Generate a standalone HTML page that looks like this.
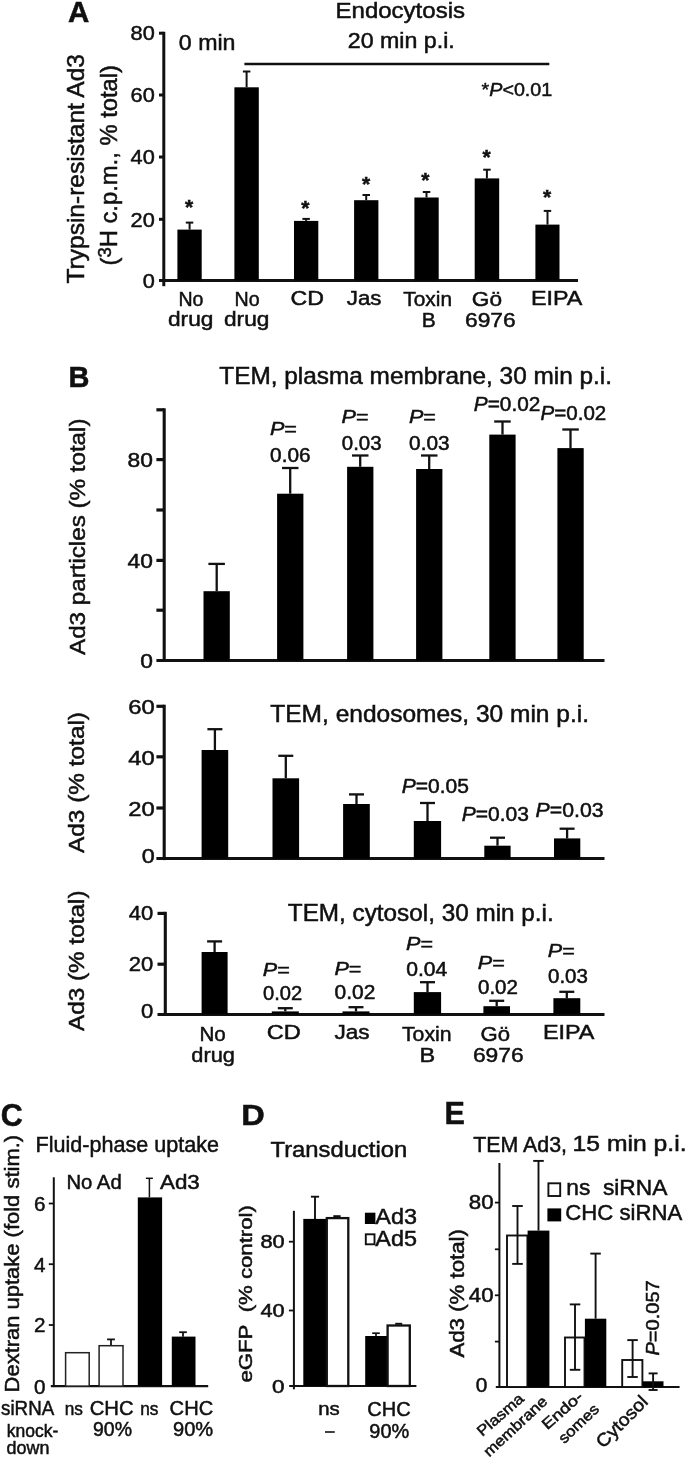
<!DOCTYPE html>
<html><head><meta charset="utf-8"><title>Figure</title>
<style>
html,body{margin:0;padding:0;background:#fff;}
body{width:685px;height:1460px;overflow:hidden;}
svg{display:block;filter:blur(0.7px);}
text{font-family:"Liberation Sans",sans-serif;fill:#101010;stroke:#101010;stroke-width:0.5px;}
</style></head><body>
<svg width="685" height="1460" viewBox="0 0 685 1460">
<rect x="0" y="0" width="685" height="1460" fill="#fff"/>
<text x="68.0" y="22.4" font-size="29.5" font-weight="bold">A</text>
<text x="335.5" y="18.2" font-size="22.36" textLength="129.5" lengthAdjust="spacingAndGlyphs">Endocytosis</text>
<text x="178.8" y="50.0" font-size="21.6" textLength="56.7" lengthAdjust="spacingAndGlyphs">0 min</text>
<text x="347.8" y="48.3" font-size="21.82" textLength="107.0" lengthAdjust="spacingAndGlyphs">20 min p.i.</text>
<line x1="244.4" y1="64.0" x2="549.3" y2="64.0" stroke="#111" stroke-width="2.3"/>
<text x="481.6" y="95.6" font-size="19.22" textLength="70.6" lengthAdjust="spacingAndGlyphs">*<tspan font-style="italic">P</tspan>&lt;0.01</text>
<line x1="163.8" y1="31.8" x2="163.8" y2="286.2" stroke="#111" stroke-width="3.0"/>
<line x1="159.0" y1="280.4" x2="578.0" y2="280.4" stroke="#111" stroke-width="3.0"/>
<line x1="159.0" y1="33.2" x2="163.8" y2="33.2" stroke="#111" stroke-width="3.0"/>
<line x1="159.0" y1="95.0" x2="163.8" y2="95.0" stroke="#111" stroke-width="3.0"/>
<line x1="159.0" y1="157.0" x2="163.8" y2="157.0" stroke="#111" stroke-width="3.0"/>
<line x1="159.0" y1="219.3" x2="163.8" y2="219.3" stroke="#111" stroke-width="3.0"/>
<text x="154.8" y="40.3" font-size="20.84" text-anchor="end" textLength="24.2" lengthAdjust="spacingAndGlyphs">80</text>
<text x="154.8" y="102.3" font-size="20.84" text-anchor="end" textLength="24.2" lengthAdjust="spacingAndGlyphs">60</text>
<text x="154.8" y="164.3" font-size="20.84" text-anchor="end" textLength="24.2" lengthAdjust="spacingAndGlyphs">40</text>
<text x="154.8" y="226.6" font-size="20.84" text-anchor="end" textLength="24.2" lengthAdjust="spacingAndGlyphs">20</text>
<text x="154.8" y="287.9" font-size="20.84" text-anchor="end" textLength="12.1" lengthAdjust="spacingAndGlyphs">0</text>
<rect x="177.4" y="229.6" width="24.3" height="50.8" fill="#000"/>
<line x1="189.6" y1="222.6" x2="189.6" y2="229.6" stroke="#111" stroke-width="2.0"/>
<line x1="185.8" y1="222.6" x2="193.3" y2="222.6" stroke="#111" stroke-width="2.0"/>
<rect x="234.4" y="87.3" width="24.4" height="193.1" fill="#000"/>
<line x1="246.6" y1="71.5" x2="246.6" y2="87.3" stroke="#111" stroke-width="2.0"/>
<line x1="242.9" y1="71.5" x2="250.4" y2="71.5" stroke="#111" stroke-width="2.0"/>
<rect x="294.0" y="220.9" width="24.3" height="59.5" fill="#000"/>
<line x1="306.1" y1="218.9" x2="306.1" y2="220.9" stroke="#111" stroke-width="2.0"/>
<line x1="302.4" y1="218.9" x2="309.9" y2="218.9" stroke="#111" stroke-width="2.0"/>
<rect x="354.1" y="200.2" width="24.3" height="80.2" fill="#000"/>
<line x1="366.2" y1="195.0" x2="366.2" y2="200.2" stroke="#111" stroke-width="2.0"/>
<line x1="362.5" y1="195.0" x2="370.0" y2="195.0" stroke="#111" stroke-width="2.0"/>
<rect x="414.4" y="197.5" width="24.3" height="82.9" fill="#000"/>
<line x1="426.5" y1="192.0" x2="426.5" y2="197.5" stroke="#111" stroke-width="2.0"/>
<line x1="422.8" y1="192.0" x2="430.3" y2="192.0" stroke="#111" stroke-width="2.0"/>
<rect x="474.7" y="178.4" width="24.5" height="102.0" fill="#000"/>
<line x1="486.9" y1="169.7" x2="486.9" y2="178.4" stroke="#111" stroke-width="2.0"/>
<line x1="483.2" y1="169.7" x2="490.7" y2="169.7" stroke="#111" stroke-width="2.0"/>
<rect x="535.4" y="224.6" width="24.1" height="55.8" fill="#000"/>
<line x1="547.5" y1="210.9" x2="547.5" y2="224.6" stroke="#111" stroke-width="2.0"/>
<line x1="543.7" y1="210.9" x2="551.2" y2="210.9" stroke="#111" stroke-width="2.0"/>
<text x="189.2" y="214.1" font-size="21" text-anchor="middle" font-weight="bold" stroke-width="0.55">*</text>
<text x="305.3" y="215.1" font-size="21" text-anchor="middle" font-weight="bold" stroke-width="0.55">*</text>
<text x="366.2" y="191.0" font-size="21" text-anchor="middle" font-weight="bold" stroke-width="0.55">*</text>
<text x="425.3" y="186.6" font-size="21" text-anchor="middle" font-weight="bold" stroke-width="0.55">*</text>
<text x="486.7" y="163.6" font-size="21" text-anchor="middle" font-weight="bold" stroke-width="0.55">*</text>
<text x="547.0" y="203.6" font-size="21" text-anchor="middle" font-weight="bold" stroke-width="0.55">*</text>
<text x="178.5" y="305.6" font-size="20.52" textLength="25.0" lengthAdjust="spacingAndGlyphs">No</text>
<text x="168.0" y="325.5" font-size="21.06" textLength="45.4" lengthAdjust="spacingAndGlyphs">drug</text>
<text x="234.5" y="305.6" font-size="20.52" textLength="25.1" lengthAdjust="spacingAndGlyphs">No</text>
<text x="224.0" y="325.5" font-size="21.06" textLength="45.4" lengthAdjust="spacingAndGlyphs">drug</text>
<text x="290.4" y="305.2" font-size="21.06" textLength="33.5" lengthAdjust="spacingAndGlyphs">CD</text>
<text x="346.8" y="305.2" font-size="21.06" textLength="34.7" lengthAdjust="spacingAndGlyphs">Jas</text>
<text x="403.3" y="305.6" font-size="20.52" textLength="48.7" lengthAdjust="spacingAndGlyphs">Toxin</text>
<text x="421.8" y="326.6" font-size="21.06" textLength="14.0" lengthAdjust="spacingAndGlyphs">B</text>
<text x="471.8" y="305.6" font-size="21.06" textLength="30.2" lengthAdjust="spacingAndGlyphs">Gö</text>
<text x="465.0" y="326.6" font-size="21.06" textLength="50.7" lengthAdjust="spacingAndGlyphs">6976</text>
<text x="531.0" y="305.2" font-size="21.06" textLength="51.4" lengthAdjust="spacingAndGlyphs">EIPA</text>
<text transform="translate(84.0,283.5) rotate(-90)" font-size="23.76" textLength="229.5" lengthAdjust="spacingAndGlyphs">Trypsin-resistant Ad3</text>
<text transform="translate(117.2,265.5) rotate(-90)" font-size="23.22" textLength="200.5" lengthAdjust="spacingAndGlyphs">(<tspan font-size="18" dy="-6">3</tspan><tspan dy="6">H c.p.m., % total)</tspan></text>
<text x="68.6" y="387.2" font-size="29" font-weight="bold">B</text>
<text x="219.3" y="383.9" font-size="23.22" textLength="392.7" lengthAdjust="spacingAndGlyphs">TEM, plasma membrane, 30 min p.i.</text>
<line x1="164.2" y1="408.3" x2="164.2" y2="661.9" stroke="#111" stroke-width="3.1"/>
<line x1="156.4" y1="660.4" x2="604.5" y2="660.4" stroke="#111" stroke-width="3.0"/>
<line x1="156.4" y1="409.8" x2="164.2" y2="409.8" stroke="#111" stroke-width="3.2"/>
<line x1="156.4" y1="459.6" x2="164.2" y2="459.6" stroke="#111" stroke-width="3.2"/>
<line x1="156.4" y1="510.0" x2="164.2" y2="510.0" stroke="#111" stroke-width="3.2"/>
<line x1="156.4" y1="560.4" x2="164.2" y2="560.4" stroke="#111" stroke-width="3.2"/>
<line x1="156.4" y1="610.2" x2="164.2" y2="610.2" stroke="#111" stroke-width="3.2"/>
<text x="153.0" y="466.9" font-size="20.84" text-anchor="end" textLength="25.4" lengthAdjust="spacingAndGlyphs">80</text>
<text x="153.0" y="568.1" font-size="20.84" text-anchor="end" textLength="25.4" lengthAdjust="spacingAndGlyphs">40</text>
<text x="153.0" y="668.1" font-size="20.84" text-anchor="end" textLength="12.7" lengthAdjust="spacingAndGlyphs">0</text>
<rect x="203.5" y="591.2" width="26.3" height="69.2" fill="#000"/>
<line x1="216.7" y1="563.9" x2="216.7" y2="591.2" stroke="#111" stroke-width="2.3"/>
<line x1="208.4" y1="563.9" x2="224.9" y2="563.9" stroke="#111" stroke-width="2.3"/>
<rect x="277.1" y="493.7" width="26.3" height="166.7" fill="#000"/>
<line x1="290.2" y1="468.0" x2="290.2" y2="493.7" stroke="#111" stroke-width="2.3"/>
<line x1="282.0" y1="468.0" x2="298.5" y2="468.0" stroke="#111" stroke-width="2.3"/>
<rect x="347.1" y="466.8" width="26.3" height="193.6" fill="#000"/>
<line x1="360.2" y1="455.5" x2="360.2" y2="466.8" stroke="#111" stroke-width="2.3"/>
<line x1="352.0" y1="455.5" x2="368.5" y2="455.5" stroke="#111" stroke-width="2.3"/>
<rect x="416.1" y="469.0" width="26.3" height="191.4" fill="#000"/>
<line x1="429.2" y1="455.5" x2="429.2" y2="469.0" stroke="#111" stroke-width="2.3"/>
<line x1="421.0" y1="455.5" x2="437.5" y2="455.5" stroke="#111" stroke-width="2.3"/>
<rect x="489.3" y="434.6" width="26.3" height="225.8" fill="#000"/>
<line x1="502.5" y1="421.5" x2="502.5" y2="434.6" stroke="#111" stroke-width="2.3"/>
<line x1="494.2" y1="421.5" x2="510.7" y2="421.5" stroke="#111" stroke-width="2.3"/>
<rect x="557.4" y="448.1" width="26.3" height="212.3" fill="#000"/>
<line x1="570.5" y1="429.5" x2="570.5" y2="448.1" stroke="#111" stroke-width="2.3"/>
<line x1="562.3" y1="429.5" x2="578.8" y2="429.5" stroke="#111" stroke-width="2.3"/>
<text x="269.9" y="435.3" font-size="18.58" textLength="27.0" lengthAdjust="spacingAndGlyphs"><tspan font-style="italic">P</tspan>=</text>
<text x="270.1" y="461.9" font-size="19.33" textLength="40.5" lengthAdjust="spacingAndGlyphs">0.06</text>
<text x="341.6" y="423.4" font-size="18.58" textLength="27.0" lengthAdjust="spacingAndGlyphs"><tspan font-style="italic">P</tspan>=</text>
<text x="341.8" y="449.7" font-size="19.33" textLength="39.8" lengthAdjust="spacingAndGlyphs">0.03</text>
<text x="408.9" y="423.4" font-size="18.58" textLength="27.0" lengthAdjust="spacingAndGlyphs"><tspan font-style="italic">P</tspan>=</text>
<text x="409.1" y="449.7" font-size="19.33" textLength="40.5" lengthAdjust="spacingAndGlyphs">0.03</text>
<text x="473.8" y="411.2" font-size="19.44" textLength="66.5" lengthAdjust="spacingAndGlyphs"><tspan font-style="italic">P</tspan>=0.02</text>
<text x="540.6" y="420.2" font-size="19.44" textLength="65.7" lengthAdjust="spacingAndGlyphs"><tspan font-style="italic">P</tspan>=0.02</text>
<text transform="translate(84.5,655.0) rotate(-90)" font-size="22.68" textLength="236.5" lengthAdjust="spacingAndGlyphs">Ad3 particles (% total)</text>
<text x="270.3" y="721.5" font-size="23.22" textLength="318.7" lengthAdjust="spacingAndGlyphs">TEM, endosomes, 30 min p.i.</text>
<line x1="164.2" y1="704.7" x2="164.2" y2="860.1" stroke="#111" stroke-width="3.1"/>
<line x1="156.4" y1="858.6" x2="604.5" y2="858.6" stroke="#111" stroke-width="3.0"/>
<line x1="156.4" y1="706.3" x2="164.2" y2="706.3" stroke="#111" stroke-width="3.2"/>
<line x1="156.4" y1="756.8" x2="164.2" y2="756.8" stroke="#111" stroke-width="3.2"/>
<line x1="156.4" y1="808.0" x2="164.2" y2="808.0" stroke="#111" stroke-width="3.2"/>
<text x="154.8" y="713.7" font-size="20.84" text-anchor="end" textLength="26.5" lengthAdjust="spacingAndGlyphs">60</text>
<text x="154.8" y="765.1" font-size="20.84" text-anchor="end" textLength="26.5" lengthAdjust="spacingAndGlyphs">40</text>
<text x="154.8" y="815.8" font-size="20.84" text-anchor="end" textLength="26.5" lengthAdjust="spacingAndGlyphs">20</text>
<text x="154.8" y="862.6" font-size="20.84" text-anchor="end" textLength="13.0" lengthAdjust="spacingAndGlyphs">0</text>
<rect x="201.6" y="750.0" width="26.6" height="108.6" fill="#000"/>
<line x1="214.9" y1="729.2" x2="214.9" y2="750.0" stroke="#111" stroke-width="2.3"/>
<line x1="207.4" y1="729.2" x2="222.4" y2="729.2" stroke="#111" stroke-width="2.3"/>
<rect x="272.5" y="778.3" width="26.6" height="80.3" fill="#000"/>
<line x1="285.8" y1="755.8" x2="285.8" y2="778.3" stroke="#111" stroke-width="2.3"/>
<line x1="278.3" y1="755.8" x2="293.3" y2="755.8" stroke="#111" stroke-width="2.3"/>
<rect x="343.1" y="804.0" width="26.7" height="54.6" fill="#000"/>
<line x1="356.5" y1="794.4" x2="356.5" y2="804.0" stroke="#111" stroke-width="2.3"/>
<line x1="349.0" y1="794.4" x2="364.0" y2="794.4" stroke="#111" stroke-width="2.3"/>
<rect x="413.8" y="821.0" width="27.3" height="37.6" fill="#000"/>
<line x1="427.5" y1="803.0" x2="427.5" y2="821.0" stroke="#111" stroke-width="2.3"/>
<line x1="420.0" y1="803.0" x2="435.0" y2="803.0" stroke="#111" stroke-width="2.3"/>
<rect x="484.3" y="845.7" width="26.3" height="12.9" fill="#000"/>
<line x1="497.5" y1="837.7" x2="497.5" y2="845.7" stroke="#111" stroke-width="2.3"/>
<line x1="490.0" y1="837.7" x2="505.0" y2="837.7" stroke="#111" stroke-width="2.3"/>
<rect x="554.0" y="838.4" width="26.3" height="20.2" fill="#000"/>
<line x1="567.1" y1="828.7" x2="567.1" y2="838.4" stroke="#111" stroke-width="2.3"/>
<line x1="559.6" y1="828.7" x2="574.6" y2="828.7" stroke="#111" stroke-width="2.3"/>
<text x="401.8" y="792.8" font-size="19.44" textLength="67.2" lengthAdjust="spacingAndGlyphs"><tspan font-style="italic">P</tspan>=0.05</text>
<text x="461.8" y="821.0" font-size="19.44" textLength="67.2" lengthAdjust="spacingAndGlyphs"><tspan font-style="italic">P</tspan>=0.03</text>
<text x="535.6" y="816.8" font-size="19.44" textLength="68.0" lengthAdjust="spacingAndGlyphs"><tspan font-style="italic">P</tspan>=0.03</text>
<text transform="translate(84.3,853.0) rotate(-90)" font-size="22.68" textLength="141.0" lengthAdjust="spacingAndGlyphs">Ad3 (% total)</text>
<text x="287.8" y="921.1" font-size="23.22" textLength="265.9" lengthAdjust="spacingAndGlyphs">TEM, cytosol, 30 min p.i.</text>
<line x1="165.3" y1="911.8" x2="165.3" y2="1015.9" stroke="#111" stroke-width="3.1"/>
<line x1="157.5" y1="1014.4" x2="604.5" y2="1014.4" stroke="#111" stroke-width="3.0"/>
<line x1="157.5" y1="913.4" x2="165.3" y2="913.4" stroke="#111" stroke-width="3.2"/>
<line x1="157.5" y1="964.2" x2="165.3" y2="964.2" stroke="#111" stroke-width="3.2"/>
<text x="153.2" y="920.2" font-size="20.84" text-anchor="end" textLength="24.5" lengthAdjust="spacingAndGlyphs">40</text>
<text x="153.2" y="970.8" font-size="20.84" text-anchor="end" textLength="24.5" lengthAdjust="spacingAndGlyphs">20</text>
<text x="153.2" y="1017.9" font-size="20.84" text-anchor="end" textLength="12.3" lengthAdjust="spacingAndGlyphs">0</text>
<rect x="201.6" y="952.0" width="26.0" height="62.4" fill="#000"/>
<line x1="214.6" y1="941.4" x2="214.6" y2="952.0" stroke="#111" stroke-width="2.3"/>
<line x1="207.1" y1="941.4" x2="222.1" y2="941.4" stroke="#111" stroke-width="2.3"/>
<rect x="271.8" y="1011.4" width="27.0" height="3.0" fill="#000"/>
<line x1="285.3" y1="1008.2" x2="285.3" y2="1011.4" stroke="#111" stroke-width="2.3"/>
<line x1="277.8" y1="1008.2" x2="292.8" y2="1008.2" stroke="#111" stroke-width="2.3"/>
<rect x="342.5" y="1011.4" width="27.0" height="3.0" fill="#000"/>
<line x1="356.0" y1="1007.2" x2="356.0" y2="1011.4" stroke="#111" stroke-width="2.3"/>
<line x1="348.5" y1="1007.2" x2="363.5" y2="1007.2" stroke="#111" stroke-width="2.3"/>
<rect x="413.8" y="992.1" width="27.3" height="22.3" fill="#000"/>
<line x1="427.5" y1="982.2" x2="427.5" y2="992.1" stroke="#111" stroke-width="2.3"/>
<line x1="420.0" y1="982.2" x2="435.0" y2="982.2" stroke="#111" stroke-width="2.3"/>
<rect x="483.4" y="1006.2" width="26.6" height="8.2" fill="#000"/>
<line x1="496.7" y1="1000.8" x2="496.7" y2="1006.2" stroke="#111" stroke-width="2.3"/>
<line x1="489.2" y1="1000.8" x2="504.2" y2="1000.8" stroke="#111" stroke-width="2.3"/>
<rect x="553.4" y="998.2" width="26.9" height="16.2" fill="#000"/>
<line x1="566.8" y1="991.8" x2="566.8" y2="998.2" stroke="#111" stroke-width="2.3"/>
<line x1="559.3" y1="991.8" x2="574.3" y2="991.8" stroke="#111" stroke-width="2.3"/>
<text x="262.8" y="976.1" font-size="18.58" textLength="27.0" lengthAdjust="spacingAndGlyphs"><tspan font-style="italic">P</tspan>=</text>
<text x="263.0" y="1000.1" font-size="19.33" textLength="39.2" lengthAdjust="spacingAndGlyphs">0.02</text>
<text x="334.4" y="975.1" font-size="18.58" textLength="27.0" lengthAdjust="spacingAndGlyphs"><tspan font-style="italic">P</tspan>=</text>
<text x="334.6" y="999.2" font-size="19.33" textLength="40.8" lengthAdjust="spacingAndGlyphs">0.02</text>
<text x="406.0" y="950.4" font-size="18.58" textLength="27.0" lengthAdjust="spacingAndGlyphs"><tspan font-style="italic">P</tspan>=</text>
<text x="406.2" y="976.1" font-size="19.33" textLength="41.1" lengthAdjust="spacingAndGlyphs">0.04</text>
<text x="477.8" y="969.3" font-size="18.58" textLength="27.0" lengthAdjust="spacingAndGlyphs"><tspan font-style="italic">P</tspan>=</text>
<text x="478.0" y="993.7" font-size="19.33" textLength="39.9" lengthAdjust="spacingAndGlyphs">0.02</text>
<text x="547.8" y="956.8" font-size="18.58" textLength="27.0" lengthAdjust="spacingAndGlyphs"><tspan font-style="italic">P</tspan>=</text>
<text x="548.0" y="982.5" font-size="19.33" textLength="39.9" lengthAdjust="spacingAndGlyphs">0.03</text>
<text transform="translate(83.6,1031.0) rotate(-90)" font-size="22.68" textLength="140.5" lengthAdjust="spacingAndGlyphs">Ad3 (% total)</text>
<text x="199.5" y="1040.9" font-size="20.52" textLength="26.3" lengthAdjust="spacingAndGlyphs">No</text>
<text x="191.3" y="1061.8" font-size="21.06" textLength="43.6" lengthAdjust="spacingAndGlyphs">drug</text>
<text x="266.7" y="1039.3" font-size="21.06" textLength="34.1" lengthAdjust="spacingAndGlyphs">CD</text>
<text x="334.4" y="1039.3" font-size="21.06" textLength="35.2" lengthAdjust="spacingAndGlyphs">Jas</text>
<text x="402.0" y="1040.9" font-size="20.52" textLength="49.6" lengthAdjust="spacingAndGlyphs">Toxin</text>
<text x="419.6" y="1062.4" font-size="21.06" textLength="15.7" lengthAdjust="spacingAndGlyphs">B</text>
<text x="480.6" y="1040.9" font-size="21.06" textLength="29.5" lengthAdjust="spacingAndGlyphs">Gö</text>
<text x="472.9" y="1062.4" font-size="21.06" textLength="50.8" lengthAdjust="spacingAndGlyphs">6976</text>
<text x="542.9" y="1038.7" font-size="21.06" textLength="51.6" lengthAdjust="spacingAndGlyphs">EIPA</text>
<text x="0.8" y="1125.8" font-size="30.5" font-weight="bold">C</text>
<text x="35.5" y="1152.1" font-size="22.14" textLength="183.5" lengthAdjust="spacingAndGlyphs">Fluid-phase uptake</text>
<line x1="53.8" y1="1177.3" x2="53.8" y2="1387.1" stroke="#111" stroke-width="2"/>
<line x1="50.8" y1="1386.1" x2="208.2" y2="1386.1" stroke="#111" stroke-width="2.2"/>
<line x1="48.8" y1="1203.5" x2="53.8" y2="1203.5" stroke="#111" stroke-width="1.8"/>
<line x1="48.8" y1="1264.2" x2="53.8" y2="1264.2" stroke="#111" stroke-width="1.8"/>
<line x1="48.8" y1="1325.0" x2="53.8" y2="1325.0" stroke="#111" stroke-width="1.8"/>
<text x="45.6" y="1210.8" font-size="20.84" text-anchor="end" textLength="11.5" lengthAdjust="spacingAndGlyphs">6</text>
<text x="45.6" y="1271.5" font-size="20.84" text-anchor="end" textLength="11.5" lengthAdjust="spacingAndGlyphs">4</text>
<text x="45.6" y="1332.3" font-size="20.84" text-anchor="end" textLength="11.5" lengthAdjust="spacingAndGlyphs">2</text>
<text x="45.6" y="1393.6" font-size="20.84" text-anchor="end" textLength="11.5" lengthAdjust="spacingAndGlyphs">0</text>
<rect x="65.6" y="1352.7" width="23.6" height="33.4" fill="#fff" stroke="#222" stroke-width="1.5"/>
<rect x="99.1" y="1345.7" width="23.9" height="40.4" fill="#fff" stroke="#222" stroke-width="1.5"/>
<line x1="111.0" y1="1339.4" x2="111.0" y2="1345.0" stroke="#111" stroke-width="1.8"/>
<line x1="107.1" y1="1339.4" x2="114.9" y2="1339.4" stroke="#111" stroke-width="1.8"/>
<rect x="137.8" y="1197.4" width="24.3" height="188.7" fill="#000"/>
<line x1="149.4" y1="1178.3" x2="149.4" y2="1197.4" stroke="#111" stroke-width="1.5"/>
<line x1="145.9" y1="1178.3" x2="152.9" y2="1178.3" stroke="#111" stroke-width="1.5"/>
<rect x="171.8" y="1336.6" width="23.7" height="49.5" fill="#000"/>
<line x1="183.0" y1="1332.2" x2="183.0" y2="1336.7" stroke="#111" stroke-width="1.8"/>
<line x1="179.2" y1="1332.2" x2="186.8" y2="1332.2" stroke="#111" stroke-width="1.8"/>
<text x="66.4" y="1189.0" font-size="20.84" textLength="55.3" lengthAdjust="spacingAndGlyphs">No Ad</text>
<text x="160.0" y="1189.0" font-size="20.84" textLength="39.8" lengthAdjust="spacingAndGlyphs">Ad3</text>
<text x="1.1" y="1414.6" font-size="20.84" textLength="53.1" lengthAdjust="spacingAndGlyphs">siRNA</text>
<text x="64.8" y="1414.6" font-size="17.82" textLength="18.2" lengthAdjust="spacingAndGlyphs">ns</text>
<text x="89.7" y="1414.6" font-size="20.84" textLength="43.9" lengthAdjust="spacingAndGlyphs">CHC</text>
<text x="140.3" y="1414.6" font-size="17.82" textLength="18.2" lengthAdjust="spacingAndGlyphs">ns</text>
<text x="169.6" y="1414.6" font-size="20.84" textLength="43.6" lengthAdjust="spacingAndGlyphs">CHC</text>
<text x="93.0" y="1436.4" font-size="20.84" textLength="39.0" lengthAdjust="spacingAndGlyphs">90%</text>
<text x="173.0" y="1436.4" font-size="20.84" textLength="40.2" lengthAdjust="spacingAndGlyphs">90%</text>
<text x="6.8" y="1437.3" font-size="18.14" textLength="51.6" lengthAdjust="spacingAndGlyphs">knock-</text>
<text x="6.6" y="1454.2" font-size="18.9" textLength="42.9" lengthAdjust="spacingAndGlyphs">down</text>
<text transform="translate(19.4,1392.4) rotate(-90)" font-size="20.63" textLength="257.5" lengthAdjust="spacingAndGlyphs">Dextran uptake (fold stim.)</text>
<text x="241.2" y="1124.5" font-size="29.5" textLength="23.5" lengthAdjust="spacingAndGlyphs" font-weight="bold">D</text>
<text x="270.5" y="1156.5" font-size="22.14" textLength="136.7" lengthAdjust="spacingAndGlyphs">Transduction</text>
<line x1="293.9" y1="1210.8" x2="293.9" y2="1389.3" stroke="#111" stroke-width="2"/>
<line x1="289.2" y1="1386.0" x2="416.4" y2="1386.0" stroke="#111" stroke-width="2.2"/>
<line x1="288.9" y1="1241.7" x2="293.9" y2="1241.7" stroke="#111" stroke-width="1.8"/>
<line x1="288.9" y1="1310.5" x2="293.9" y2="1310.5" stroke="#111" stroke-width="1.8"/>
<text x="284.6" y="1248.1" font-size="17.6" text-anchor="end" textLength="24.2" lengthAdjust="spacingAndGlyphs">80</text>
<text x="284.6" y="1316.9" font-size="17.6" text-anchor="end" textLength="24.2" lengthAdjust="spacingAndGlyphs">40</text>
<text x="284.6" y="1393.1" font-size="17.6" text-anchor="end" textLength="12.5" lengthAdjust="spacingAndGlyphs">0</text>
<rect x="303.3" y="1218.9" width="22.8" height="167.1" fill="#000"/>
<line x1="315.0" y1="1196.7" x2="315.0" y2="1218.9" stroke="#111" stroke-width="1.9"/>
<line x1="310.9" y1="1196.7" x2="319.1" y2="1196.7" stroke="#111" stroke-width="1.9"/>
<rect x="326.8" y="1218.1" width="21.5" height="167.9" fill="#fff" stroke="#111" stroke-width="2.3"/>
<line x1="333.3" y1="1216.2" x2="340.6" y2="1216.2" stroke="#111" stroke-width="2"/>
<rect x="365.2" y="1336.0" width="22.0" height="50.0" fill="#000"/>
<line x1="376.0" y1="1333.2" x2="376.0" y2="1336.0" stroke="#111" stroke-width="1.7"/>
<line x1="372.2" y1="1333.2" x2="379.8" y2="1333.2" stroke="#111" stroke-width="1.7"/>
<rect x="387.6" y="1325.5" width="22.2" height="60.5" fill="#fff" stroke="#111" stroke-width="2.3"/>
<line x1="395.2" y1="1323.8" x2="402.2" y2="1323.8" stroke="#111" stroke-width="2"/>
<rect x="364.9" y="1212.7" width="10.5" height="11.3" fill="#000"/>
<text x="375.3" y="1224.4" font-size="21.92" textLength="41.7" lengthAdjust="spacingAndGlyphs">Ad3</text>
<rect x="365.8" y="1234.3" width="8.7" height="10.0" fill="#fff" stroke="#111" stroke-width="1.9"/>
<text x="375.3" y="1246.4" font-size="21.92" textLength="41.7" lengthAdjust="spacingAndGlyphs">Ad5</text>
<text x="318.3" y="1414.6" font-size="18.9" textLength="21.5" lengthAdjust="spacingAndGlyphs">ns</text>
<line x1="325.0" y1="1432.0" x2="334.8" y2="1432.0" stroke="#111" stroke-width="1.6"/>
<text x="367.3" y="1415.6" font-size="20.84" textLength="43.4" lengthAdjust="spacingAndGlyphs">CHC</text>
<text x="369.3" y="1437.5" font-size="21.06" textLength="39.9" lengthAdjust="spacingAndGlyphs">90%</text>
<text transform="translate(251.7,1382.6) rotate(-90)" font-size="19.22" textLength="177.5" lengthAdjust="spacingAndGlyphs">eGFP&#160;&#160;(% control)</text>
<text x="444.5" y="1124.2" font-size="30.5" font-weight="bold">E</text>
<text x="473.2" y="1151.6" font-size="21.38" textLength="93.8" lengthAdjust="spacingAndGlyphs">TEM Ad3,</text>
<text x="572.6" y="1151.0" font-size="21.6" textLength="113.9" lengthAdjust="spacingAndGlyphs">15 min p.i.</text>
<line x1="499.4" y1="1163.0" x2="499.4" y2="1388.0" stroke="#111" stroke-width="2"/>
<line x1="495.8" y1="1387.0" x2="679.6" y2="1387.0" stroke="#111" stroke-width="2.2"/>
<line x1="494.9" y1="1202.6" x2="499.4" y2="1202.6" stroke="#111" stroke-width="1.8"/>
<line x1="494.9" y1="1249.3" x2="499.4" y2="1249.3" stroke="#111" stroke-width="1.8"/>
<line x1="494.9" y1="1295.3" x2="499.4" y2="1295.3" stroke="#111" stroke-width="1.8"/>
<line x1="494.9" y1="1341.6" x2="499.4" y2="1341.6" stroke="#111" stroke-width="1.8"/>
<text x="493.6" y="1209.2" font-size="20.09" text-anchor="end" textLength="24.8" lengthAdjust="spacingAndGlyphs">80</text>
<text x="493.6" y="1301.8" font-size="20.09" text-anchor="end" textLength="24.8" lengthAdjust="spacingAndGlyphs">40</text>
<text x="487.4" y="1392.1" font-size="20.09" text-anchor="end" textLength="11.6" lengthAdjust="spacingAndGlyphs">0</text>
<rect x="507.0" y="1235.5" width="20.4" height="151.5" fill="#fff" stroke="#111" stroke-width="1.9"/>
<line x1="517.5" y1="1206.0" x2="517.5" y2="1263.9" stroke="#111" stroke-width="1.9"/>
<line x1="512.2" y1="1206.0" x2="522.8" y2="1206.0" stroke="#111" stroke-width="1.9"/>
<line x1="512.2" y1="1263.9" x2="522.8" y2="1263.9" stroke="#111" stroke-width="1.9"/>
<rect x="527.6" y="1230.6" width="21.8" height="156.4" fill="#000"/>
<line x1="538.5" y1="1160.9" x2="538.5" y2="1230.6" stroke="#111" stroke-width="1.9"/>
<line x1="533.2" y1="1160.9" x2="543.8" y2="1160.9" stroke="#111" stroke-width="1.9"/>
<rect x="565.0" y="1337.5" width="19.5" height="49.5" fill="#fff" stroke="#111" stroke-width="1.9"/>
<line x1="575.0" y1="1304.4" x2="575.0" y2="1369.8" stroke="#111" stroke-width="1.9"/>
<line x1="569.8" y1="1304.4" x2="580.3" y2="1304.4" stroke="#111" stroke-width="1.9"/>
<line x1="569.8" y1="1369.8" x2="580.3" y2="1369.8" stroke="#111" stroke-width="1.9"/>
<rect x="584.9" y="1318.7" width="21.4" height="68.3" fill="#000"/>
<line x1="595.6" y1="1253.6" x2="595.6" y2="1318.7" stroke="#111" stroke-width="1.9"/>
<line x1="590.3" y1="1253.6" x2="600.8" y2="1253.6" stroke="#111" stroke-width="1.9"/>
<rect x="622.2" y="1360.0" width="20.2" height="27.0" fill="#fff" stroke="#111" stroke-width="1.9"/>
<line x1="632.6" y1="1340.1" x2="632.6" y2="1377.0" stroke="#111" stroke-width="1.9"/>
<line x1="627.3" y1="1340.1" x2="637.8" y2="1340.1" stroke="#111" stroke-width="1.9"/>
<line x1="627.3" y1="1377.0" x2="637.8" y2="1377.0" stroke="#111" stroke-width="1.9"/>
<rect x="642.8" y="1381.3" width="20.7" height="5.7" fill="#000"/>
<line x1="653.1" y1="1373.4" x2="653.1" y2="1390.0" stroke="#111" stroke-width="1.9"/>
<line x1="648.6" y1="1373.4" x2="657.6" y2="1373.4" stroke="#111" stroke-width="1.9"/>
<line x1="648.6" y1="1390.0" x2="657.6" y2="1390.0" stroke="#111" stroke-width="1.9"/>
<rect x="548.4" y="1183.3" width="11.8" height="12.7" fill="#fff" stroke="#111" stroke-width="1.9"/>
<text x="566.3" y="1194.8" font-size="22.25" textLength="101.1" lengthAdjust="spacingAndGlyphs">ns&#160;&#160;siRNA</text>
<rect x="547.4" y="1208.4" width="13.8" height="13.0" fill="#000"/>
<text x="565.3" y="1219.6" font-size="22.25" textLength="116.9" lengthAdjust="spacingAndGlyphs">CHC siRNA</text>
<text transform="translate(659.2,1355.6) rotate(-90)" font-size="18.58" textLength="75.3" lengthAdjust="spacingAndGlyphs"><tspan font-style="italic">P</tspan>=0.057</text>
<text transform="translate(463.8,1357.6) rotate(-90)" font-size="19.76" textLength="128.5" lengthAdjust="spacingAndGlyphs">Ad3 (% total)</text>
<text transform="translate(482.3,1437.0) rotate(-40.8)" font-size="15.01" textLength="56.4" lengthAdjust="spacingAndGlyphs">Plasma</text>
<text transform="translate(489.3,1457.6) rotate(-43.0)" font-size="15.01" textLength="80.6" lengthAdjust="spacingAndGlyphs">membrane</text>
<text transform="translate(547.3,1430.3) rotate(-41.5)" font-size="15.01" textLength="49.0" lengthAdjust="spacingAndGlyphs">Endo-</text>
<text transform="translate(564.3,1444.3) rotate(-43.6)" font-size="15.01" textLength="49.3" lengthAdjust="spacingAndGlyphs">somes</text>
<text transform="translate(603.3,1449.0) rotate(-45.2)" font-size="18.14" textLength="64.8" lengthAdjust="spacingAndGlyphs">Cytosol</text>
</svg>
</body></html>
